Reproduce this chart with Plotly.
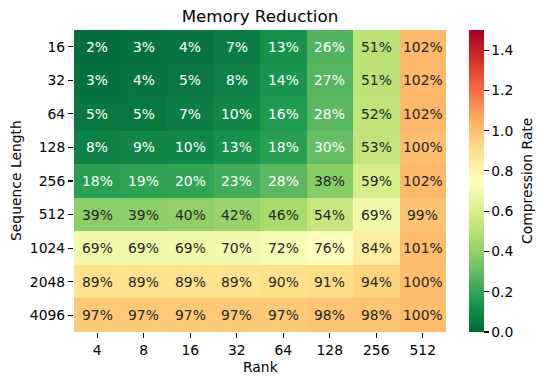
import plotly.graph_objects as go

ranks = ["4", "8", "16", "32", "64", "128", "256", "512"]
seq_lengths = ["16", "32", "64", "128", "256", "512", "1024", "2048", "4096"]
pct_16 = [2, 3, 4, 7, 13, 26, 51, 102]
pct_32 = [3, 4, 5, 8, 14, 27, 51, 102]
pct_64 = [5, 5, 7, 10, 16, 28, 52, 102]
pct_128 = [8, 9, 10, 13, 18, 30, 53, 100]
pct_256 = [18, 19, 20, 23, 28, 38, 59, 102]
pct_512 = [39, 39, 40, 42, 46, 54, 69, 99]
pct_1024 = [69, 69, 69, 70, 72, 76, 84, 101]
pct_2048 = [89, 89, 89, 89, 90, 91, 94, 100]
pct_4096 = [97, 97, 97, 97, 97, 98, 98, 100]

pct = [pct_16, pct_32, pct_64, pct_128, pct_256, pct_512, pct_1024, pct_2048, pct_4096]
z = [[v / 100 for v in row] for row in pct]
xi = list(range(len(ranks)))
yi = list(range(len(seq_lengths)))

FONT = "DejaVu Sans"
FS = 13.9

# plot area in pixels
L, R, T, B = 74, 446, 30, 332
W, H = R - L, B - T


def px_x(p):
    return (p - L) / W


def px_y(p):
    return (B - p) / H


fig = go.Figure(go.Heatmap(
    z=z, x=xi, y=yi,
    colorscale="RdYlGn_r", zmin=0, zmax=1.5,
    colorbar=dict(
        tickvals=[0, 0.2, 0.4, 0.6, 0.8, 1.0, 1.2, 1.4],
        ticktext=["0.0", "0.2", "0.4", "0.6", "0.8", "1.0", "1.2", "1.4"],
        ticks="outside", ticklen=5, tickwidth=1.1, tickcolor="black",
        tickfont=dict(family=FONT, size=FS, color="black"),
        thickness=15, thicknessmode="pixels",
        len=1, lenmode="fraction", y=0.5, yanchor="middle",
        x=px_x(469.3), xanchor="left", xpad=0, ypad=0,
        outlinewidth=0,
    ),
    hoverinfo="skip",
))

annotations = []
for i in yi:
    for j in xi:
        v = pct[i][j]
        annotations.append(dict(
            x=j, y=i, xref="x", yref="y", text=f"{v}%", showarrow=False,
            font=dict(family=FONT, size=FS, color="white" if v < 35 else "#262626"),
        ))

annotations += [
    dict(text="Sequence Length", xref="paper", yref="paper", x=px_x(16), y=0.5,
         textangle=-90, showarrow=False, xanchor="center", yanchor="middle",
         font=dict(family=FONT, size=FS, color="black")),
    dict(text="Rank", xref="paper", yref="paper", x=0.5, y=px_y(367),
         showarrow=False, xanchor="center", yanchor="middle",
         font=dict(family=FONT, size=FS, color="black")),
    dict(text="Compression Rate", xref="paper", yref="paper", x=px_x(527), y=0.5,
         textangle=-90, showarrow=False, xanchor="center", yanchor="middle",
         font=dict(family=FONT, size=FS, color="black")),
]

fig.update_layout(
    width=545, height=385,
    margin=dict(l=L, r=545 - R, t=T, b=385 - B, autoexpand=False),
    paper_bgcolor="white", plot_bgcolor="white",
    title=dict(text="Memory Reduction", x=260 / 545, xanchor="center",
               y=1 - 16 / 385, yanchor="middle",
               font=dict(family=FONT, size=16.7, color="black")),
    annotations=annotations,
    font=dict(family=FONT, size=FS, color="black"),
)
fig.update_xaxes(
    tickmode="array", tickvals=xi, ticktext=ranks,
    ticks="outside", ticklen=5, tickwidth=1.1, tickcolor="black", showline=False, showgrid=False,
    zeroline=False, tickfont=dict(family=FONT, size=FS), automargin=False,
    range=[-0.5, len(ranks) - 0.5],
)
fig.update_yaxes(
    tickmode="array", tickvals=yi, ticktext=seq_lengths,
    ticks="outside", ticklen=5, tickwidth=1.1, tickcolor="black", showline=False, showgrid=False,
    zeroline=False, tickfont=dict(family=FONT, size=FS), automargin=False,
    range=[len(seq_lengths) - 0.5, -0.5],
)

fig.write_html(
    "out.html",
    config={"displayModeBar": False, "staticPlot": True},
    post_script="document.body.style.margin='0';document.body.style.overflow='hidden';",
)
